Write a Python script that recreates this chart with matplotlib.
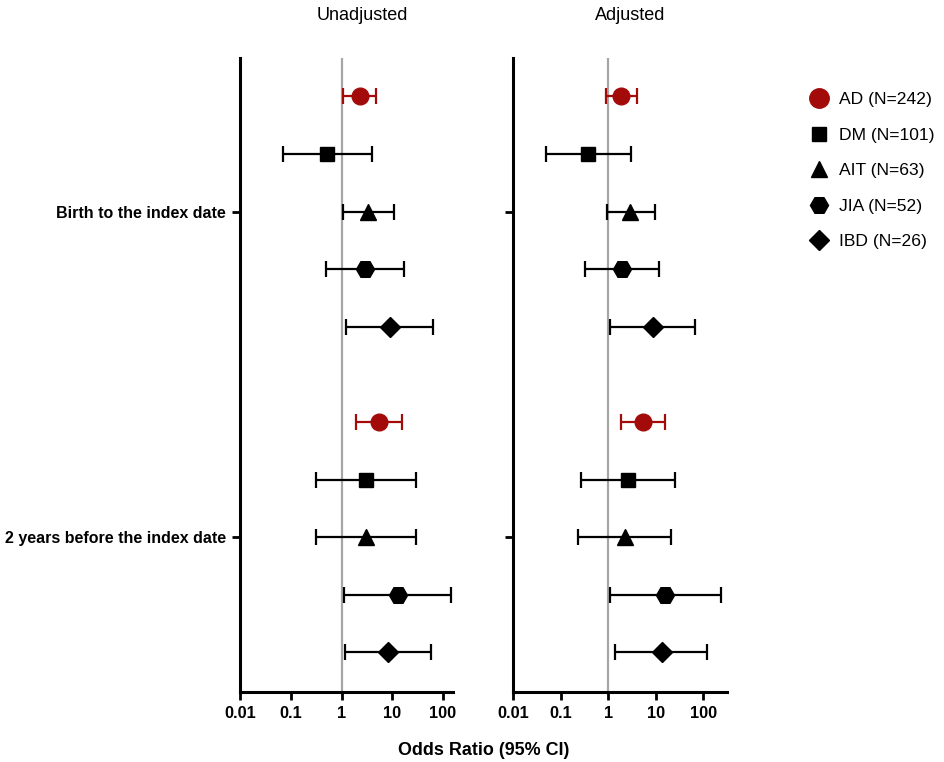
import matplotlib.pyplot as plt
from matplotlib.lines import Line2D

plt.rcParams['font.family'] = ['Liberation Sans', 'DejaVu Sans']

# data
diseases = ['AD', 'DM', 'AIT', 'JIA', 'IBD']
counts = [242, 101, 63, 52, 26]
periods = ['Birth to the index date', '2 years before the index date']

# unadjusted odds ratios: [period][disease]
unadj_or = [[2.3, 0.52, 3.3, 2.9, 8.9],
            [5.4, 3.1, 3.0, 13.0, 8.3]]
unadj_lo = [[1.07, 0.071, 1.07, 0.49, 1.25],
            [1.9, 0.32, 0.32, 1.12, 1.16]]
unadj_hi = [[4.7, 4.0, 10.7, 16.8, 63.0],
            [15.6, 30.0, 30.0, 142.0, 57.0]]

# adjusted odds ratios
adj_or = [[1.88, 0.38, 2.9, 1.95, 8.6],
          [5.4, 2.6, 2.2, 15.9, 13.2]]
adj_lo = [[0.89, 0.049, 0.92, 0.33, 1.11],
          [1.85, 0.27, 0.23, 1.07, 1.4]]
adj_hi = [[4.0, 3.0, 9.4, 11.8, 65.0],
          [15.5, 25.6, 21.0, 240.0, 120.0]]

markers = ['o', 's', '^', 'H', 'D']
msizes = [12, 9.5, 11.5, 13, 10]
red = '#a30b0b'
colors = [red, 'black', 'black', 'black', 'black']

group_gap = 5.66


def draw_panel(ax, est, lo, hi, title, title_x, xmax, show_labels):
    """Draw one forest plot panel"""

    for g in range(len(periods)):
        for i in range(len(diseases)):
            y = g * group_gap + i
            e = est[g][i]
            ax.errorbar(e, y, xerr=[[e - lo[g][i]], [hi[g][i] - e]],
                        fmt=markers[i], color=colors[i], ms=msizes[i],
                        elinewidth=1.6, capsize=5.5, capthick=1.6, zorder=3)

    # reference line at OR = 1
    ax.axvline(1, color='#a6a6a6', lw=1.6, zorder=1)

    ax.set_xscale('log')
    ax.set_xlim(0.01, xmax)
    ax.set_ylim(group_gap + 4 + 0.69, -0.67)
    ax.set_xticks([0.01, 0.1, 1, 10, 100])
    ax.set_xticklabels(['0.01', '0.1', '1', '10', '100'])
    ax.minorticks_off()

    ax.set_yticks([2, group_gap + 2])
    if show_labels:
        ax.set_yticklabels(periods)
    else:
        ax.set_yticklabels([])

    for side in ['top', 'right']:
        ax.spines[side].set_visible(False)
    for side in ['left', 'bottom']:
        ax.spines[side].set_linewidth(2.2)

    ax.tick_params(width=2, length=6, pad=4)
    ax.tick_params(axis='x', labelsize=11.8)
    ax.tick_params(axis='y', labelsize=11.5)
    for lab in ax.get_xticklabels() + ax.get_yticklabels():
        lab.set_fontweight('bold')

    ax.set_title(title, fontsize=13, pad=27, x=title_x)


fig = plt.figure(figsize=(9.45, 7.62), dpi=100)
ax1 = fig.add_axes([0.254, 0.092, 0.225, 0.832])
ax2 = fig.add_axes([0.543, 0.092, 0.2265, 0.832])

draw_panel(ax1, unadj_or, unadj_lo, unadj_hi, 'Unadjusted', 0.573, 155, True)
draw_panel(ax2, adj_or, adj_lo, adj_hi, 'Adjusted', 0.547, 316, False)

fig.text(0.512, 0.004, 'Odds Ratio (95% CI)', ha='center', va='bottom',
         fontsize=12.9, fontweight='bold')

# legend
handles = [Line2D([], [], ls='none', marker=markers[i], color=colors[i],
                  ms=msizes[i] + (2 if i == 0 else 0))
           for i in range(len(diseases))]
labels = [f'{d} (N={n})' for d, n in zip(diseases, counts)]
fig.legend(handles, labels, loc='upper left', bbox_to_anchor=(0.844, 0.893),
           frameon=False, fontsize=12.6, handletextpad=0.55, labelspacing=1.16,
           handlelength=1.2, borderaxespad=0.2)

fig.savefig('out.png', dpi=100)
